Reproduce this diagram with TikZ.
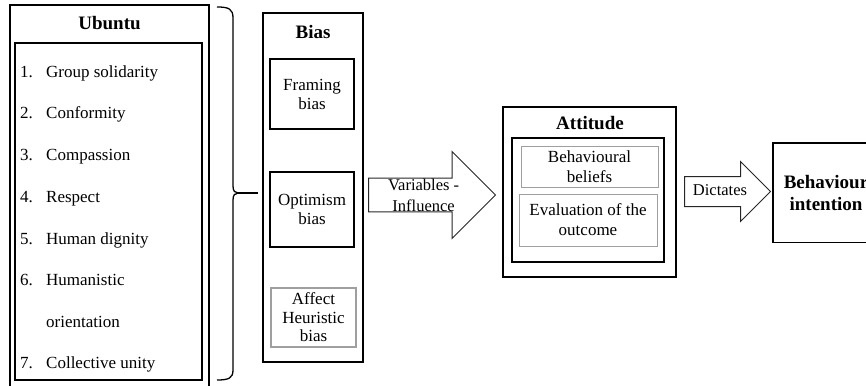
\documentclass[tikz,border=0pt]{standalone}
\usepackage{fontspec}
\setmainfont{Liberation Serif}
\usetikzlibrary{shapes.arrows}

\tikzset{
  outerbox/.style={draw, line width=1.5pt, inner sep=0pt},
  innerbox/.style={draw, line width=1.1pt, inner sep=0pt, align=center, font=\fontsize{17}{19}\selectfont},
  greybox/.style={draw=gray!75, line width=1pt, inner sep=0pt, align=center, font=\fontsize{17}{20}\selectfont},
  txt/.style={inner sep=0pt, font=\fontsize{17}{20}\selectfont},
  title/.style={inner sep=0pt, align=center, font=\fontsize{19}{22}\selectfont\bfseries},
  blockarrow/.style={draw=black!85, line width=1pt, shape=single arrow, single arrow head indent=0pt, inner sep=0pt, align=center, font=\fontsize{16.5}{21}\selectfont}
}

\begin{document}
\begin{tikzpicture}[x=1pt, y=-1pt]

\useasboundingbox ( 0, 0 ) rectangle ( 866, 385 );
\clip ( 0, 0 ) rectangle ( 866, 385 );

% Ubuntu
\node [outerbox, minimum width=199pt, minimum height=390pt] (ubuntu) at ( 109.5, 200 ) {};
\node [title] (ubuntutitle) at ( 109.5, 23 ) {Ubuntu};
\node [outerbox, line width=1.1pt, minimum width=187pt, minimum height=337pt] (ubuntulist) at ( 108.5, 211.5 ) {};
\foreach \n/\t/\y in {1/Group solidarity/72, 2/Conformity/113, 3/Compassion/155, 4/Respect/197, 5/Human dignity/239, 6/Humanistic/280, 7/Collective unity/363} {
  \node [txt, anchor=base west] (num\n) at ( 20, \y+5.5 ) {\n.};
  \node [txt, anchor=base west] (item\n) at ( 46, \y+5.5 ) {\t};
}
\node [txt, anchor=base west] (item6b) at ( 46, 327.5 ) {orientation};

% Brace
\draw [line width=1.3pt] ( 217, 7 ) .. controls ( 229, 7 ) and ( 233, 9 ) .. ( 233, 18 ) -- ( 233, 186 )
  .. controls ( 233, 191 ) and ( 235, 193 ) .. ( 238, 193 )
  .. controls ( 235, 193 ) and ( 233, 195 ) .. ( 233, 200 ) -- ( 233, 370 )
  .. controls ( 233, 378 ) and ( 229, 380 ) .. ( 217, 380 );
\coordinate (bracetip) at ( 238, 193 );

% Bias
\node [outerbox, minimum width=100pt, minimum height=349pt] (bias) at ( 313, 187.5 ) {};
\node [title] (biastitle) at ( 313, 32 ) {Bias};
\node [innerbox, minimum width=84pt, minimum height=70pt] (framing) at ( 312, 94 ) {Framing\\bias};
\node [innerbox, minimum width=84pt, minimum height=75pt] (optimism) at ( 312, 209.5 ) {Optimism\\bias};
\node [greybox, line width=1.8pt, minimum width=85pt, minimum height=59pt, font=\fontsize{17}{18.5}\selectfont] (affect) at ( 313.5, 317.5 ) {Affect\\Heuristic\\bias};

\draw [line width=1.3pt, shorten >=4pt] (bracetip) -- (bracetip -| bias.west);

% Variables - Influence
\node [blockarrow, single arrow head extend=26.5pt, minimum height=127pt, anchor=tail] (influence) at ( 368, 195 ) {Variables -\\Influence};

% Attitude
\node [outerbox, minimum width=173pt, minimum height=170pt] (attitude) at ( 589.5, 192 ) {};
\node [title] (attitudetitle) at ( 590, 123 ) {Attitude};
\node [outerbox, line width=1.1pt, minimum width=152pt, minimum height=124pt] (attinner) at ( 588, 200 ) {};
\node [greybox, minimum width=137pt, minimum height=41pt] (beliefs) at ( 589.5, 166.5 ) {Behavioural\\beliefs};
\node [greybox, minimum width=138pt, minimum height=52pt] (evaluation) at ( 588, 220 ) {Evaluation of the\\outcome};

% Dictates
\node [blockarrow, single arrow head extend=15pt, minimum height=86pt, inner ysep=6.5pt, text height=12pt, text depth=4pt, anchor=tail] (dictates) at ( 684, 191.5 ) {Dictates};

% Behaviour intention
\node [outerbox, minimum width=127pt, minimum height=99.5pt] (intention) at ( 836.5, 192.5 ) {};
\node [title] (intentiontext) at ( 826, 193 ) {Behaviour\\intention};

\end{tikzpicture}
\end{document}
